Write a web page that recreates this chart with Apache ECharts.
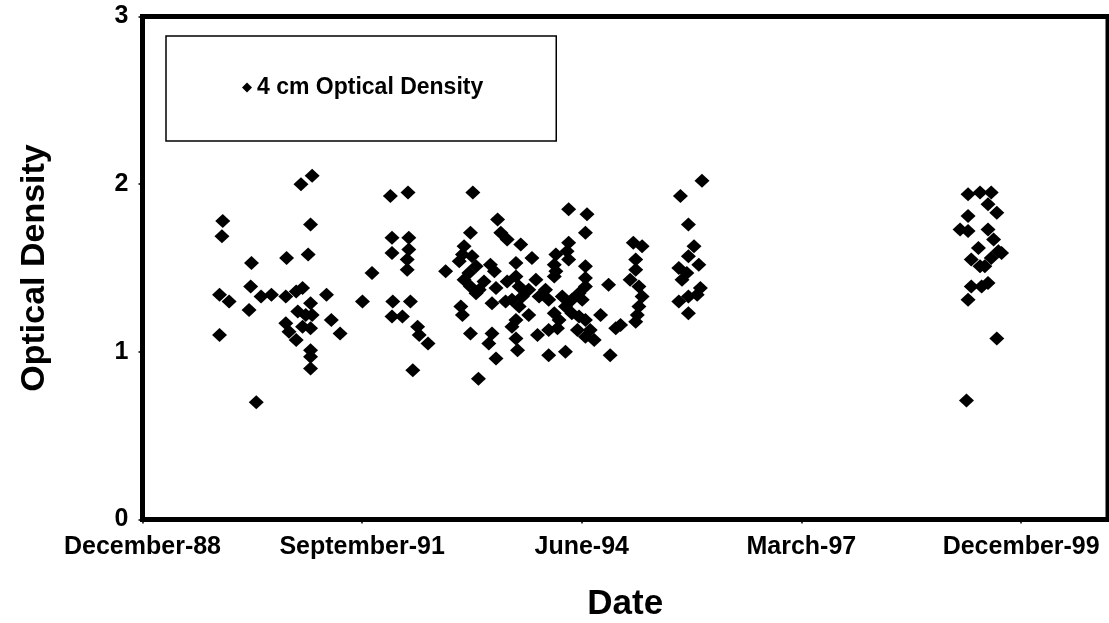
<!DOCTYPE html>
<html>
<head>
<meta charset="utf-8">
<script src="https://cdn.jsdelivr.net/npm/echarts@6/dist/echarts.min.js"></script>
<style>
  html, body { margin: 0; padding: 0; background: #fff; }
  #chart { width: 1109px; height: 623px; }
</style>
</head>
<body>
<div id="chart"></div>
<script>
// Sample dates as decimal years, paired with optical density readings
const sampleYears = [
  // 1989 - 1991
  1989.92, 1989.91, 1989.88, 1990.00, 1989.88, 1990.28, 1990.27, 1990.25, 1990.34, 1990.40,
  1990.53, 1990.72, 1990.99, 1991.02, 1990.90, 1991.04, 1990.71, 1990.84, 1990.92, 1991.02,
  1990.86, 1990.96, 1991.04, 1990.71, 1990.75, 1990.84, 1990.92, 1991.02, 1991.02, 1991.02,
  1991.02, 1991.22, 1991.28, 1991.39, 1991.67, 1991.79,
  // 1992
  1992.02, 1992.24, 1992.04, 1992.25, 1992.04, 1992.25, 1992.23, 1992.23, 1992.05, 1992.27,
  1992.04, 1992.17, 1992.36, 1992.38, 1992.49, 1992.30,
  // late 1992 - early 1995
  1992.71, 1993.02, 1992.94, 1992.92, 1992.88, 1993.04, 1993.09, 1993.00, 1992.94, 1993.02,
  1993.09, 1993.13, 1993.27, 1993.32, 1993.34, 1993.29, 1992.90, 1992.92, 1993.02, 1993.29,
  1993.25, 1993.34, 1993.36, 1993.40, 1993.48, 1993.65, 1993.59, 1993.59, 1993.63, 1993.54,
  1993.67, 1993.63, 1993.79, 1993.84, 1993.75, 1993.88, 1993.59, 1993.54, 1993.59, 1993.61,
  1993.75, 1993.86, 1994.00, 1994.00, 1994.11, 1994.07, 1994.13, 1994.09, 1994.07, 1994.09,
  1994.07, 1993.96, 1994.00, 1994.17, 1994.21, 1994.29, 1994.21, 1994.25, 1994.48, 1994.46,
  1994.25, 1994.23, 1994.25, 1994.46, 1994.46, 1994.46, 1994.38, 1994.42, 1994.29, 1994.38,
  1994.46, 1994.52, 1994.57, 1994.36, 1994.46, 1994.75, 1994.65, 1994.77, 1994.84, 1994.90,
  1995.06, 1995.17, 1995.09, 1995.09, 1995.02, 1995.13, 1995.17, 1995.13, 1995.11, 1995.09,
  1993.05, 1993.12, 1993.19, 1993.48, 1993.46,
  // late 1995
  1995.92, 1995.65, 1995.75, 1995.82, 1995.75, 1995.63, 1995.88, 1995.73, 1995.67, 1995.90,
  1995.86, 1995.63, 1995.75, 1995.75,
  // 1999
  1999.25, 1999.40, 1999.54, 1999.50, 1999.61, 1999.25, 1999.15, 1999.25, 1999.50, 1999.57,
  1999.38, 1999.63, 1999.67, 1999.29, 1999.46, 1999.54, 1999.42, 1999.50, 1999.29, 1999.25,
  1999.61, 1999.23, 1999.40
];
const opticalDensity = [
  // 1989 - 1991
  1.78, 1.69, 1.34, 1.30, 1.10, 1.53, 1.39, 1.25, 0.70, 1.33,
  1.34, 1.56, 1.58, 1.76, 2.00, 2.05, 1.33, 1.36, 1.38, 1.29,
  1.24, 1.22, 1.22, 1.17, 1.12, 1.07, 1.15, 1.14, 1.01, 0.97,
  0.90, 1.34, 1.19, 1.11, 1.30, 1.47,
  // 1992
  1.93, 1.95, 1.68, 1.68, 1.59, 1.61, 1.55, 1.49, 1.30, 1.30,
  1.21, 1.21, 1.15, 1.10, 1.05, 0.89,
  // late 1992 - early 1995
  1.48, 1.71, 1.63, 1.58, 1.54, 1.57, 1.51, 1.47, 1.43, 1.39,
  1.35, 1.37, 1.52, 1.48, 1.38, 1.29, 1.27, 1.22, 1.11, 1.11,
  1.05, 0.96, 1.79, 1.71, 1.67, 1.64, 1.53, 1.45, 1.39, 1.31,
  1.33, 1.27, 1.56, 1.43, 1.37, 1.33, 1.19, 1.15, 1.08, 1.01,
  1.22, 1.10, 0.98, 1.13, 1.14, 1.23, 1.19, 1.58, 1.52, 1.48,
  1.45, 1.37, 1.31, 1.33, 1.27, 1.31, 1.00, 1.85, 1.82, 1.71,
  1.65, 1.60, 1.55, 1.51, 1.44, 1.39, 1.35, 1.31, 1.23, 1.21,
  1.19, 1.13, 1.07, 1.13, 1.09, 1.40, 1.22, 0.98, 1.14, 1.16,
  1.65, 1.63, 1.55, 1.49, 1.43, 1.39, 1.33, 1.27, 1.22, 1.18,
  1.95, 0.84, 1.42, 1.42, 1.30,
  // late 1995
  2.02, 1.93, 1.76, 1.63, 1.57, 1.50, 1.52, 1.47, 1.43, 1.38,
  1.34, 1.30, 1.33, 1.23,
  // 1999
  1.94, 1.95, 1.95, 1.88, 1.83, 1.81, 1.73, 1.72, 1.73, 1.67,
  1.62, 1.60, 1.59, 1.55, 1.51, 1.56, 1.39, 1.41, 1.39, 1.31,
  1.08, 0.71, 1.51
];
// Date axis ticks and their labels
const tickDates = ['1988-12-01', '1991-09-01', '1994-06-01', '1997-03-01', '1999-12-01'];
const tickLabels = ['December-88', 'September-91', 'June-94', 'March-97', 'December-99'];
const axisStart = '1988-12-01';
const axisEnd = '2001-01-01';
const seriesName = '4 cm Optical Density';

const DAY = 86400000;
function toTime(s) {
  const p = s.split('-').map(Number);
  return Date.UTC(p[0], p[1] - 1, p[2]);
}
function yearToTime(y) {
  const yr = Math.floor(y);
  const a = Date.UTC(yr, 0, 1), b = Date.UTC(yr + 1, 0, 1);
  return a + (y - yr) * (b - a);
}
// The date axis counts days from its first date
const t0 = toTime(axisStart);
const dayOf = t => (t - t0) / DAY;

const tickDays = tickDates.map(s => dayOf(toTime(s)));
const points = sampleYears.map((y, i) => [dayOf(yearToTime(y)), opticalDensity[i]]);
const FONT = '"Liberation Sans", Arial, Helvetica, sans-serif';

const chart = echarts.init(document.getElementById('chart'), null, { renderer: 'canvas' });
chart.setOption({
  backgroundColor: '#ffffff',
  animation: false,
  grid: {
    left: 142.5, right: 1, top: 16.5, bottom: 103.5,
    outerBoundsMode: 'none',
    show: true, borderColor: '#000', borderWidth: 5, backgroundColor: 'transparent'
  },
  legend: {
    show: true,
    left: 166, top: 36,
    orient: 'horizontal',
    data: [{ name: seriesName, icon: 'diamond' }],
    itemWidth: 10, itemHeight: 10, itemGap: 4,
    padding: [40, 73, 42, 76],
    borderColor: '#000', borderWidth: 1.5, backgroundColor: '#fff',
    textStyle: { fontFamily: FONT, fontWeight: 'bold', fontSize: 23, color: '#000' }
  },
  xAxis: {
    type: 'value',
    min: 0,
    max: dayOf(toTime(axisEnd)),
    name: 'Date',
    nameLocation: 'middle',
    nameGap: 67,
    nameTextStyle: { fontFamily: FONT, fontWeight: 'bold', fontSize: 35, color: '#000' },
    axisLine: { show: false },
    splitLine: { show: false },
    axisTick: { show: true, customValues: tickDays, length: 4, lineStyle: { color: '#000', width: 1.5 } },
    axisLabel: {
      customValues: tickDays,
      margin: 15,
      fontFamily: FONT, fontWeight: 'bold', fontSize: 25, color: '#000',
      formatter: function (v) {
        const i = tickDays.indexOf(v);
        return i >= 0 ? tickLabels[i] : '';
      }
    }
  },
  yAxis: {
    type: 'value',
    min: 0, max: 3, interval: 1,
    name: 'Optical Density',
    nameLocation: 'middle',
    nameGap: 91,
    nameTextStyle: { fontFamily: FONT, fontWeight: 'bold', fontSize: 34, color: '#000' },
    axisLine: { show: false },
    splitLine: { show: false },
    axisTick: { show: true, length: 4, lineStyle: { color: '#000', width: 1.5 } },
    axisLabel: { margin: 14, fontFamily: FONT, fontWeight: 'bold', fontSize: 25, color: '#000' }
  },
  series: [{
    name: seriesName,
    type: 'scatter',
    symbol: 'diamond',
    symbolSize: [15, 14],
    itemStyle: { color: '#000', opacity: 1 },
    data: points
  }]
});
</script>
</body>
</html>
